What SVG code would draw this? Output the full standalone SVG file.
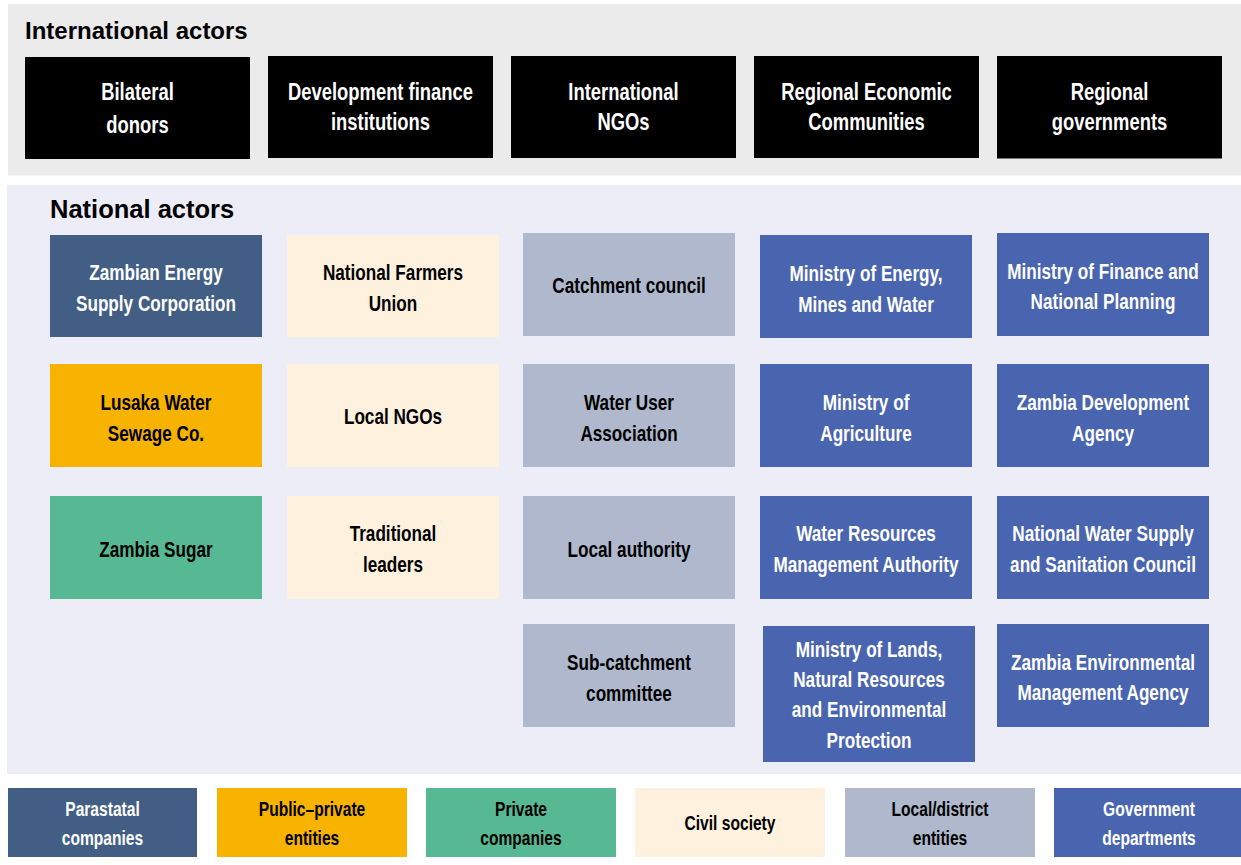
<svg xmlns="http://www.w3.org/2000/svg" width="1241" height="865" viewBox="0 0 1241 865">
<style>
text{font-family:"Liberation Sans",Arial,sans-serif;font-weight:bold}
.title{font-size:24px;fill:#000}
.top{font-size:23px;fill:#fff;text-anchor:middle}
.n{font-size:22px;text-anchor:middle}
.lg{font-size:19.5px;text-anchor:middle}
.w{fill:#fff}
.k{fill:#000}
.intl{fill:#000}
.para{fill:#425e85}
.pp{fill:#f8b200}
.priv{fill:#57b994}
.civ{fill:#fef2df}
.loc{fill:#afb8cc}
.gov{fill:#4a65af}
</style>
<rect x="0" y="0" width="1241" height="865" fill="#fff"/>
<rect id="intl-panel" x="8" y="4" width="1233" height="171.5" fill="#ebebeb"/>
<rect id="natl-panel" x="7" y="185" width="1234" height="589" fill="#ededf7"/>
<text class="title" x="25" y="39.3">International actors</text>
<text class="title" x="50" y="218.3" style="font-size:25.5px">National actors</text>

<g id="connectors"/>

<g id="bilateral"><rect class="intl" x="25" y="57" width="225" height="102"/><text class="top" transform="translate(137.5,0) scale(0.8,1)"><tspan x="0" y="100">Bilateral</tspan><tspan x="0" y="133">donors</tspan></text></g>
<g id="dfi"><rect class="intl" x="268" y="56" width="225" height="102"/><text class="top" transform="translate(380.5,0) scale(0.8,1)"><tspan x="0" y="100">Development finance</tspan><tspan x="0" y="130">institutions</tspan></text></g>
<g id="intl-ngos"><rect class="intl" x="511" y="56" width="225" height="102"/><text class="top" transform="translate(623.5,0) scale(0.8,1)"><tspan x="0" y="100.5">International</tspan><tspan x="0" y="130.5">NGOs</tspan></text></g>
<g id="rec"><rect class="intl" x="754" y="56" width="225" height="102"/><text class="top" transform="translate(866.5,0) scale(0.8,1)"><tspan x="0" y="100.5">Regional Economic</tspan><tspan x="0" y="130.5">Communities</tspan></text></g>
<g id="regional-gov"><rect class="intl" x="997" y="56" width="225" height="102.5"/><text class="top" transform="translate(1109.5,0) scale(0.8,1)"><tspan x="0" y="100.5">Regional</tspan><tspan x="0" y="130.5">governments</tspan></text></g>

<g id="zesco"><rect class="para" x="50" y="235" width="212" height="102"/><text class="n w" transform="translate(156,0) scale(0.78,1)"><tspan x="0" y="280">Zambian Energy</tspan><tspan x="0" y="311">Supply Corporation</tspan></text></g>
<g id="nfu"><rect class="civ" x="287" y="235" width="212" height="102"/><text class="n k" transform="translate(393,0) scale(0.78,1)"><tspan x="0" y="280">National Farmers</tspan><tspan x="0" y="311">Union</tspan></text></g>
<g id="catchment-council"><rect class="loc" x="523" y="233" width="212" height="103"/><text class="n k" transform="translate(629,0) scale(0.78,1)"><tspan x="0" y="293">Catchment council</tspan></text></g>
<g id="mem"><rect class="gov" x="760" y="235" width="212" height="103"/><text class="n w" transform="translate(866,0) scale(0.78,1)"><tspan x="0" y="281">Ministry of Energy,</tspan><tspan x="0" y="312">Mines and Water</tspan></text></g>
<g id="mof"><rect class="gov" x="997" y="233" width="212" height="103"/><text class="n w" transform="translate(1103,0) scale(0.78,1)"><tspan x="0" y="279">Ministry of Finance and</tspan><tspan x="0" y="309.5">National Planning</tspan></text></g>

<g id="lwsc"><rect class="pp" x="50" y="364" width="212" height="103"/><text class="n k" transform="translate(156,0) scale(0.78,1)"><tspan x="0" y="410">Lusaka Water</tspan><tspan x="0" y="441">Sewage Co.</tspan></text></g>
<g id="local-ngos"><rect class="civ" x="287" y="364" width="212" height="103"/><text class="n k" transform="translate(393,0) scale(0.78,1)"><tspan x="0" y="424">Local NGOs</tspan></text></g>
<g id="wua"><rect class="loc" x="523" y="364" width="212" height="103"/><text class="n k" transform="translate(629,0) scale(0.78,1)"><tspan x="0" y="410">Water User</tspan><tspan x="0" y="441">Association</tspan></text></g>
<g id="moa"><rect class="gov" x="760" y="364" width="212" height="103"/><text class="n w" transform="translate(866,0) scale(0.78,1)"><tspan x="0" y="410">Ministry of</tspan><tspan x="0" y="441">Agriculture</tspan></text></g>
<g id="zda"><rect class="gov" x="997" y="364" width="212" height="103"/><text class="n w" transform="translate(1103,0) scale(0.78,1)"><tspan x="0" y="410">Zambia Development</tspan><tspan x="0" y="441">Agency</tspan></text></g>

<g id="zambia-sugar"><rect class="priv" x="50" y="496" width="212" height="103"/><text class="n k" transform="translate(156,0) scale(0.78,1)"><tspan x="0" y="557">Zambia Sugar</tspan></text></g>
<g id="traditional-leaders"><rect class="civ" x="287" y="496" width="212" height="103"/><text class="n k" transform="translate(393,0) scale(0.78,1)"><tspan x="0" y="541">Traditional</tspan><tspan x="0" y="572">leaders</tspan></text></g>
<g id="local-authority"><rect class="loc" x="523" y="496" width="212" height="103"/><text class="n k" transform="translate(629,0) scale(0.78,1)"><tspan x="0" y="557">Local authority</tspan></text></g>
<g id="wrma"><rect class="gov" x="760" y="496" width="212" height="103"/><text class="n w" transform="translate(866,0) scale(0.78,1)"><tspan x="0" y="541">Water Resources</tspan><tspan x="0" y="572">Management Authority</tspan></text></g>
<g id="nwasco"><rect class="gov" x="997" y="496" width="212" height="103"/><text class="n w" transform="translate(1103,0) scale(0.78,1)"><tspan x="0" y="541">National Water Supply</tspan><tspan x="0" y="572">and Sanitation Council</tspan></text></g>

<g id="sub-catchment"><rect class="loc" x="523" y="624" width="212" height="103"/><text class="n k" transform="translate(629,0) scale(0.78,1)"><tspan x="0" y="670">Sub-catchment</tspan><tspan x="0" y="701">committee</tspan></text></g>
<g id="mlnrep"><rect class="gov" x="763" y="626" width="212" height="136"/><text class="n w" transform="translate(869,0) scale(0.78,1)"><tspan x="0" y="657">Ministry of Lands,</tspan><tspan x="0" y="687">Natural Resources</tspan><tspan x="0" y="717.5">and Environmental</tspan><tspan x="0" y="748">Protection</tspan></text></g>
<g id="zema"><rect class="gov" x="997" y="624" width="212" height="103"/><text class="n w" transform="translate(1103,0) scale(0.78,1)"><tspan x="0" y="670">Zambia Environmental</tspan><tspan x="0" y="700.5">Management Agency</tspan></text></g>

<g id="legend">
<g id="lg-para"><rect class="para" x="8" y="788" width="189" height="69"/><text class="lg w" transform="translate(102.5,0) scale(0.8,1)"><tspan x="0" y="816.5">Parastatal</tspan><tspan x="0" y="845">companies</tspan></text></g>
<g id="lg-pp"><rect class="pp" x="217" y="788" width="190" height="69"/><text class="lg k" transform="translate(312,0) scale(0.8,1)"><tspan x="0" y="816.5">Public–private</tspan><tspan x="0" y="845">entities</tspan></text></g>
<g id="lg-priv"><rect class="priv" x="426" y="788" width="190" height="69"/><text class="lg k" transform="translate(521,0) scale(0.8,1)"><tspan x="0" y="816.5">Private</tspan><tspan x="0" y="845">companies</tspan></text></g>
<g id="lg-civ"><rect class="civ" x="635" y="788" width="190" height="69"/><text class="lg k" transform="translate(730,0) scale(0.8,1)"><tspan x="0" y="830">Civil society</tspan></text></g>
<g id="lg-loc"><rect class="loc" x="845" y="788" width="190" height="69"/><text class="lg k" transform="translate(940,0) scale(0.8,1)"><tspan x="0" y="816.5">Local/district</tspan><tspan x="0" y="845">entities</tspan></text></g>
<g id="lg-gov"><rect class="gov" x="1054" y="788" width="190" height="69"/><text class="lg w" transform="translate(1149,0) scale(0.8,1)"><tspan x="0" y="816.5">Government</tspan><tspan x="0" y="845">departments</tspan></text></g>
</g>
</svg>
